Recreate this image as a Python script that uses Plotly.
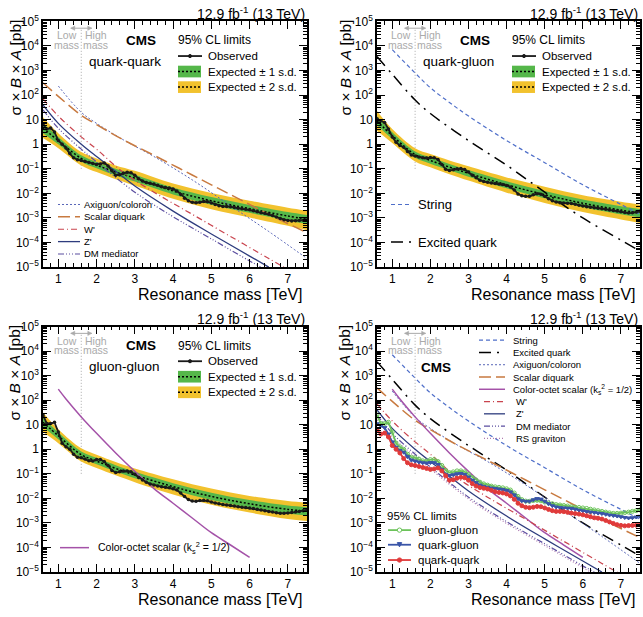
import plotly.graph_objects as go
from plotly.subplots import make_subplots

W, H = 643, 617
FONT = "Liberation Sans, Arial, Helvetica, sans-serif"

# ---------------- data (log10 of sigma x B x A in pb) ----------------
mass_obs = [0.6, 0.7, 0.8, 0.9, 1.0, 1.1, 1.2, 1.3, 1.4, 1.5,
            1.6, 1.7, 1.8, 1.9, 2.0, 2.1, 2.2, 2.3, 2.4, 2.5,
            2.6, 2.7, 2.8, 2.9, 3.0, 3.1, 3.2, 3.3, 3.4, 3.5,
            3.6, 3.7, 3.8, 3.9, 4.0, 4.1, 4.2, 4.3, 4.4, 4.5,
            4.6, 4.7, 4.8, 4.9, 5.0, 5.1, 5.2, 5.3, 5.4, 5.5,
            5.6, 5.7, 5.8, 5.9, 6.0, 6.1, 6.2, 6.3, 6.4, 6.5,
            6.6, 6.7, 6.8, 6.9, 7.0, 7.1, 7.2, 7.3, 7.4, 7.5]

obs_qq_log = [0.80, 0.62, 0.66, 0.50, 0.15, 0.00, -0.15, -0.38, -0.55, -0.63,
              -0.66, -0.70, -0.74, -0.78, -0.82, -0.80, -0.76, -0.88, -1.08, -1.26,
              -1.24, -1.18, -1.14, -1.16, -1.26, -1.40, -1.50, -1.56, -1.59, -1.62,
              -1.67, -1.73, -1.76, -1.78, -1.82, -1.90, -2.04, -2.20, -2.30, -2.36,
              -2.38, -2.36, -2.33, -2.34, -2.39, -2.45, -2.50, -2.53, -2.53, -2.54,
              -2.57, -2.60, -2.62, -2.64, -2.67, -2.71, -2.75, -2.79, -2.81, -2.84,
              -2.90, -2.96, -3.02, -3.07, -3.10, -3.12, -3.11, -3.10, -3.09, -3.08]

obs_qg_log = [1.04, 0.96, 0.88, 0.62, 0.30, 0.08, -0.05, -0.12, -0.30, -0.44,
              -0.48, -0.52, -0.55, -0.56, -0.54, -0.55, -0.62, -0.82, -1.02, -1.07,
              -1.04, -1.00, -0.99, -1.03, -1.13, -1.26, -1.36, -1.46, -1.52, -1.55,
              -1.58, -1.60, -1.62, -1.64, -1.68, -1.74, -1.86, -2.02, -2.10, -2.12,
              -2.12, -2.06, -2.01, -2.03, -2.12, -2.22, -2.30, -2.35, -2.38, -2.39,
              -2.40, -2.41, -2.44, -2.48, -2.51, -2.54, -2.56, -2.58, -2.60, -2.62,
              -2.65, -2.68, -2.70, -2.72, -2.75, -2.78, -2.80, -2.79, -2.76, -2.73]

obs_gg_log = [1.40, 1.05, 1.05, 1.10, 0.70, 0.25, 0.10, 0.00, -0.20, -0.32,
              -0.35, -0.40, -0.47, -0.48, -0.42, -0.42, -0.50, -0.66, -0.86, -0.95,
              -0.92, -0.88, -0.88, -0.92, -1.02, -1.15, -1.25, -1.34, -1.41, -1.46,
              -1.50, -1.53, -1.55, -1.57, -1.61, -1.66, -1.78, -1.92, -2.05, -2.11,
              -2.12, -2.09, -2.08, -2.10, -2.15, -2.19, -2.22, -2.25, -2.27, -2.29,
              -2.31, -2.34, -2.36, -2.37, -2.39, -2.41, -2.44, -2.47, -2.50, -2.53,
              -2.56, -2.59, -2.61, -2.61, -2.60, -2.58, -2.56, -2.53, -2.50, -2.47]

mass_exp = [0.6, 1.0, 1.6, 2.0, 2.5, 3.0, 4.0, 5.0, 6.0, 7.0, 7.5]

exp_qq_log = [0.65, 0.15, -0.58, -0.85, -1.13, -1.38, -1.90, -2.30, -2.62, -2.92, -3.05]
exp_qq_p1 = [0.85, 0.30, -0.45, -0.72, -1.00, -1.24, -1.76, -2.15, -2.47, -2.76, -2.88]
exp_qq_m1 = [0.45, 0.00, -0.71, -0.98, -1.27, -1.52, -2.04, -2.46, -2.79, -3.10, -3.25]
exp_qq_p2 = [1.10, 0.45, -0.32, -0.58, -0.86, -1.08, -1.60, -1.98, -2.30, -2.58, -2.70]
exp_qq_m2 = [0.25, -0.16, -0.86, -1.13, -1.42, -1.68, -2.22, -2.64, -2.98, -3.32, -3.50]

exp_qg_log = [0.95, 0.35, -0.42, -0.66, -0.93, -1.18, -1.65, -2.05, -2.40, -2.68, -2.80]
exp_qg_p1 = [1.13, 0.49, -0.29, -0.53, -0.80, -1.05, -1.51, -1.90, -2.25, -2.52, -2.64]
exp_qg_m1 = [0.77, 0.21, -0.55, -0.79, -1.06, -1.32, -1.79, -2.20, -2.56, -2.85, -2.98]
exp_qg_p2 = [1.35, 0.62, -0.16, -0.40, -0.66, -0.90, -1.35, -1.73, -2.08, -2.34, -2.46]
exp_qg_m2 = [0.55, 0.05, -0.70, -0.94, -1.22, -1.48, -1.97, -2.39, -2.76, -3.06, -3.20]

exp_gg_log = [1.10, 0.55, -0.22, -0.48, -0.78, -1.05, -1.52, -1.92, -2.22, -2.45, -2.52]
exp_gg_p1 = [1.28, 0.69, -0.09, -0.35, -0.65, -0.92, -1.38, -1.77, -2.07, -2.29, -2.36]
exp_gg_m1 = [0.92, 0.41, -0.35, -0.61, -0.91, -1.18, -1.66, -2.07, -2.38, -2.62, -2.70]
exp_gg_p2 = [1.50, 0.82, 0.04, -0.22, -0.52, -0.78, -1.22, -1.60, -1.90, -2.11, -2.18]
exp_gg_m2 = [0.70, 0.25, -0.50, -0.76, -1.06, -1.34, -1.84, -2.26, -2.58, -2.84, -2.92]

string_mass = [1.0, 1.6, 2.0, 2.5, 3.0, 4.0, 5.0, 6.0, 7.0, 7.5]
string_log = [3.85, 2.90, 2.30, 1.70, 1.15, 0.15, -0.75, -1.65, -2.45, -2.85]
qstar_mass = [0.6, 1.0, 1.6, 2.0, 3.0, 4.0, 5.0, 6.0, 7.0, 7.5]
qstar_log = [3.57, 2.85, 1.80, 1.25, 0.15, -0.85, -1.95, -3.00, -3.90, -4.35]
axigluon_mass = [1.0, 1.6, 2.0, 2.7, 3.5, 4.5, 5.5, 6.5, 7.5]
axigluon_log = [2.37, 1.30, 0.85, 0.18, -0.50, -1.45, -2.50, -3.55, -4.65]
diquark_mass = [0.6, 1.0, 1.6, 2.0, 2.7, 3.5, 4.5, 5.5, 6.5, 7.5]
diquark_log = [2.50, 1.95, 1.18, 0.80, 0.18, -0.45, -1.25, -2.05, -2.85, -3.60]
octet_mass = [1.0, 1.2, 1.6, 2.0, 2.5, 3.0, 3.5, 4.0, 4.5, 5.0, 5.5, 6.0]
octet_log = [2.45, 2.05, 1.32, 0.65, -0.15, -0.90, -1.60, -2.20, -2.80, -3.40, -3.90, -4.40]
wprime_mass = [0.6, 1.0, 1.6, 2.0, 2.7, 3.5, 4.5, 5.5, 6.5, 7.0]
wprime_log = [1.85, 1.15, 0.30, -0.20, -1.15, -1.95, -2.85, -3.75, -4.65, -5.10]
zprime_mass = [0.6, 1.0, 1.6, 2.0, 2.5, 3.0, 4.0, 5.0, 6.0, 6.5]
zprime_log = [1.60, 0.85, 0.00, -0.50, -1.10, -1.70, -2.72, -3.65, -4.55, -5.00]
dm_mass = [0.6, 1.0, 1.6, 2.0, 3.0, 4.0, 5.0, 6.0, 6.3]
dm_log = [1.40, 0.65, -0.20, -0.72, -1.95, -2.95, -3.85, -4.75, -5.00]
rsg_mass = [0.6, 1.0, 1.6, 2.0, 3.0, 4.0, 5.0, 6.0, 6.2]
rsg_log = [1.20, 0.50, -0.30, -0.80, -2.02, -3.02, -3.92, -4.82, -5.00]

boundary_mass = 1.6
boundary_y = [0.1, 5.0e4]

x_ticks = [1, 2, 3, 4, 5, 6, 7]
y_ticks = [1e-5, 1e-4, 1e-3, 1e-2, 1e-1, 1, 10, 1e2, 1e3, 1e4, 1e5]
y_ticktext = ["10<sup>\u22125</sup>", "10<sup>\u22124</sup>", "10<sup>\u22123</sup>",
              "10<sup>\u22122</sup>", "10<sup>\u22121</sup>", "1", "10",
              "10<sup>2</sup>", "10<sup>3</sup>", "10<sup>4</sup>", "10<sup>5</sup>"]


def pb(v):
    return [10 ** a for a in v]


# ---------------- styles ----------------
GREEN = "#55b74a"
YELLOW = "#f2c22e"
GRAY = "#aaaaaa"
OBS = "#1a1a1a"
STY = {
    "string": dict(color="#4f6fc9", width=1.2, dash="4px,3px"),
    "qstar": dict(color="black", width=1.5, dash="12px,6px,2px,6px"),
    "axi": dict(color="#5866b8", width=1.0, dash="2px,2px"),
    "diq": dict(color="#c87a40", width=1.5, dash="12px,5px"),
    "oct": dict(color="#a452a8", width=1.5, dash="solid"),
    "wp": dict(color="#c9444e", width=1.2, dash="6px,3px,1px,3px"),
    "zp": dict(color="#2e3c7e", width=1.3, dash="solid"),
    "dm": dict(color="#5b4ea0", width=1.2, dash="6px,2px,1px,2px,1px,2px,1px,2px"),
    "rsg": dict(color="#b07ab0", width=1.2, dash="1px,2px"),
}
MODELS = {
    "string": (string_mass, string_log),
    "qstar": (qstar_mass, qstar_log),
    "axi": (axigluon_mass, axigluon_log),
    "diq": (diquark_mass, diquark_log),
    "oct": (octet_mass, octet_log),
    "wp": (wprime_mass, wprime_log),
    "zp": (zprime_mass, zprime_log),
    "dm": (dm_mass, dm_log),
    "rsg": (rsg_mass, rsg_log),
}

fig = make_subplots(rows=2, cols=2)

panels = [
    dict(key="qq", row=1, col=1, L=43, T=12.7, R=307, B=265, ytx=15),
    dict(key="qg", row=1, col=2, L=377, T=12.7, R=640, B=265, ytx=345),
    dict(key="gg", row=2, col=1, L=43, T=326, R=307, B=578, ytx=15),
    dict(key="all", row=2, col=2, L=377, T=326, R=640, B=578, ytx=345),
]

EXP = {
    "qq": (exp_qq_m2, exp_qq_m1, exp_qq_log, exp_qq_p1, exp_qq_p2, obs_qq_log),
    "qg": (exp_qg_m2, exp_qg_m1, exp_qg_log, exp_qg_p1, exp_qg_p2, obs_qg_log),
    "gg": (exp_gg_m2, exp_gg_m1, exp_gg_log, exp_gg_p1, exp_gg_p2, obs_gg_log),
}
PANEL_MODELS = {"qq": ["axi", "diq", "wp", "zp", "dm"], "qg": ["string", "qstar"], "gg": ["oct"],
                "all": ["string", "qstar", "axi", "diq", "oct", "wp", "zp", "dm", "rsg"]}


def add_model(name, r, c):
    m, v = MODELS[name]
    fig.add_trace(go.Scatter(x=m, y=pb(v), mode="lines", line=dict(shape="spline", **STY[name]),
                             showlegend=False, hoverinfo="skip"), row=r, col=c)


for p in panels:
    r, c = p["row"], p["col"]
    fig.add_trace(go.Scatter(x=[boundary_mass, boundary_mass], y=boundary_y, mode="lines",
                             line=dict(color=GRAY, width=1, dash="1px,2px"), showlegend=False,
                             hoverinfo="skip"), row=r, col=c)
    if p["key"] in EXP:
        m2, m1, e, p1, p2, obs = EXP[p["key"]]
        for lo, hi, col in ((m2, p2, YELLOW), (m1, p1, GREEN)):
            fig.add_trace(go.Scatter(x=mass_exp, y=pb(lo), mode="lines", line=dict(width=0, shape="spline"),
                                     showlegend=False, hoverinfo="skip"), row=r, col=c)
            fig.add_trace(go.Scatter(x=mass_exp, y=pb(hi), mode="lines", line=dict(width=0, shape="spline"),
                                     fill="tonexty", fillcolor=col, showlegend=False, hoverinfo="skip"),
                          row=r, col=c)
        fig.add_trace(go.Scatter(x=mass_exp, y=pb(e), mode="lines",
                                 line=dict(color="black", width=1.5, dash="2px,2px", shape="spline"),
                                 showlegend=False, hoverinfo="skip"), row=r, col=c)
        for name in PANEL_MODELS[p["key"]]:
            add_model(name, r, c)
        fig.add_trace(go.Scatter(x=mass_obs, y=pb(obs), mode="lines+markers",
                                 line=dict(color=OBS, width=1.8), marker=dict(color=OBS, size=3.5),
                                 showlegend=False, hoverinfo="skip"), row=r, col=c)
    else:
        for name in PANEL_MODELS["all"]:
            add_model(name, r, c)
        for obs, col, sym in ((obs_gg_log, "#6cc35a", "circle-open"),
                              (obs_qg_log, "#3a55a8", "triangle-down"),
                              (obs_qq_log, "#e03a3a", "circle")):
            fig.add_trace(go.Scatter(x=mass_obs, y=pb(obs), mode="lines+markers",
                                     line=dict(color=col, width=1.8),
                                     marker=dict(color=col, size=4, symbol=sym, line=dict(color=col, width=1)),
                                     showlegend=False, hoverinfo="skip"), row=r, col=c)

# ---------------- axes ----------------
minor_y = [k * 10.0 ** e for e in range(-5, 5) for k in range(2, 10)]
tickfont = dict(family=FONT, size=12, color="black")
for i, p in enumerate(panels):
    sfx = "" if i == 0 else str(i + 1)
    fig.layout["xaxis" + sfx].update(
        domain=[p["L"] / W, p["R"] / W], range=[0.6, 7.5], showline=True, linecolor="black",
        linewidth=1.5, mirror="ticks", ticks="inside", ticklen=8, tickwidth=1, tickcolor="black",
        tickmode="array", tickvals=x_ticks, showgrid=False, zeroline=False, tickfont=tickfont,
        minor=dict(ticks="inside", ticklen=4, tickwidth=1, tickcolor="black", dtick=0.2, tick0=0,
                   showgrid=False))
    fig.layout["yaxis" + sfx].update(
        domain=[1 - p["B"] / H, 1 - p["T"] / H], type="log", range=[-5, 5], showline=True,
        linecolor="black", linewidth=1.5, mirror="ticks", ticks="inside", ticklen=8, tickwidth=1,
        tickcolor="black", tickmode="array", tickvals=y_ticks, ticktext=y_ticktext, showgrid=False,
        zeroline=False, tickfont=tickfont,
        minor=dict(ticks="inside", ticklen=4, tickwidth=1, tickcolor="black", tickmode="array",
                   tickvals=minor_y, showgrid=False))

# ---------------- texts and legend samples ----------------
ann, shp = [], []


def X(px):
    return px / W


def Y(py):
    return 1 - py / H


def txt(x, y, s, size, color="black", xa="left", ya="middle", angle=0):
    ann.append(dict(xref="paper", yref="paper", x=X(x), y=Y(y), text=s, showarrow=False,
                    xanchor=xa, yanchor=ya, textangle=angle, borderpad=0,
                    font=dict(family=FONT, size=size, color=color)))


def hline(x0, x1, y, color, width, dash="solid"):
    shp.append(dict(type="line", xref="paper", yref="paper", x0=X(x0), x1=X(x1), y0=Y(y), y1=Y(y),
                    line=dict(color=color, width=width, dash=dash)))


def rect(x0, x1, y0, y1, fill):
    shp.append(dict(type="rect", xref="paper", yref="paper", x0=X(x0), x1=X(x1), y0=Y(y1), y1=Y(y0),
                    fillcolor=fill, line=dict(width=0)))


def dot(x, y, r, color, fill=None):
    shp.append(dict(type="circle", xref="paper", yref="paper", x0=X(x - r), x1=X(x + r),
                    y0=Y(y + r), y1=Y(y - r), fillcolor=fill if fill else color,
                    line=dict(color=color, width=1)))


def tri(x, y, r, color):
    path = "M {} {} L {} {} L {} {} Z".format(X(x - r), Y(y - r), X(x + r), Y(y - r), X(x), Y(y + r))
    shp.append(dict(type="path", xref="paper", yref="paper", path=path, fillcolor=color,
                    line=dict(color=color, width=1)))


def arrow_line(x0, x1, y, color):
    # grey double-headed arrow drawn as a line with two small heads
    hline(x0, x1, y, color, 1)
    for xe, s in ((x0, 1), (x1, -1)):
        path = "M {} {} L {} {} L {} {} Z".format(X(xe), Y(y), X(xe + s * 4), Y(y - 2.2),
                                                  X(xe + s * 4), Y(y + 2.2))
        shp.append(dict(type="path", xref="paper", yref="paper", path=path, fillcolor=color,
                        line=dict(color=color, width=0.5)))


YTITLE = "\u03c3 \u00d7 <i>B</i> \u00d7 <i>A</i> [pb]"
LABELS = {"qq": "quark-quark", "qg": "quark-gluon", "gg": "gluon-gluon"}

for p in panels:
    L, T, R, B = p["L"], p["T"], p["R"], p["B"]
    txt(R - 1, T - 8.5, "12.9 fb<sup>-1</sup> (13 TeV)", 14, ya="middle", xa="right")
    txt(p["ytx"], T - 3, YTITLE, 15.5, xa="center", ya="top", angle=-90)
    txt(R - 3.5, B + 28.5, "Resonance mass [TeV]", 16, xa="right")
    cx = L + (boundary_mass - 0.6) * (R - L) / 6.9
    txt(cx - 14.5, T + 14.5, "Low", 10.5, color=GRAY, xa="center")
    txt(cx - 14.5, T + 24, "mass", 10.5, color=GRAY, xa="center")
    txt(cx + 14.5, T + 14.5, "High", 10.5, color=GRAY, xa="center")
    txt(cx + 14.5, T + 24, "mass", 10.5, color=GRAY, xa="center")
    arrow_line(cx - 10.5, cx + 10.5, T + 7, GRAY)
    if p["key"] in LABELS:
        txt(L + 98, T + 19.5, "<b>CMS</b>", 13.5, xa="center")
        txt(L + 45, T + 41, LABELS[p["key"]], 13.5)
        txt(L + 134, T + 19.5, "95% CL limits", 12)
        hline(L + 135, L + 159, T + 35.6, OBS, 1.8)
        dot(L + 147, T + 35.6, 1.6, OBS)
        txt(L + 164, T + 35.6, "Observed", 11.5)
        rect(L + 135, L + 158, T + 45.5, T + 57.5, GREEN)
        hline(L + 135, L + 158, T + 51.5, "black", 1.5, "2px,2px")
        txt(L + 164, T + 51.5, "Expected \u00b1 1 s.d.", 11.5)
        rect(L + 135, L + 158, T + 61.5, T + 73.5, YELLOW)
        hline(L + 135, L + 158, T + 67.5, "black", 1.5, "2px,2px")
        txt(L + 164, T + 67.5, "Expected \u00b1 2 s.d.", 11.5)
    if p["key"] == "qq":
        rows = [("axi", "Axiguon/coloron"), ("diq", "Scalar diquark"), ("wp", "W'"), ("zp", "Z'"),
                ("dm", "DM mediator")]
        for k, (name, lab) in enumerate(rows):
            yy = B - 64.3 + 12.7 * k
            hline(L + 15, L + 37, yy, STY[name]["color"], STY[name]["width"], STY[name]["dash"])
            txt(L + 40, yy, lab, 9.5)
    elif p["key"] == "qg":
        for name, lab, yy in (("string", "String", B - 64.3), ("qstar", "Excited quark", B - 25.7)):
            hline(L + 14, L + 34, yy, STY[name]["color"], STY[name]["width"], STY[name]["dash"])
            txt(L + 40, yy, lab, 13)
    elif p["key"] == "gg":
        yy = B - 25
        hline(L + 17, L + 46, yy, STY["oct"]["color"], 1.5)
        txt(L + 54, yy, "Color-octet scalar (k<sub>s</sub><sup>2</sup> = 1/2)", 10.5)
    else:
        txt(L + 59, T + 42, "<b>CMS</b>", 13.5, xa="center")
        rows = [("string", "String"), ("qstar", "Excited quark"), ("axi", "Axiguon/coloron"),
                ("diq", "Scalar diquark"), ("oct", "Color-octet scalar (k<sub>s</sub><sup>2</sup> = 1/2)"),
                ("wp", "W'"), ("zp", "Z'"), ("dm", "DM mediator"), ("rsg", "RS graviton")]
        for k, (name, lab) in enumerate(rows):
            yy = T + 14 + 12.6 * k
            indent = 2.5 if k >= 5 else 0
            hline(L + 102 + indent * 2, L + 128, yy, STY[name]["color"], STY[name]["width"], STY[name]["dash"])
            txt(L + 135 + indent, yy, lab, 9.5)
        txt(L + 9, B - 57.3, "95% CL limits", 11.5)
        leg = [("gluon-gluon", "#6cc35a", "o", B - 43), ("quark-gluon", "#3a55a8", "v", B - 28),
               ("quark-quark", "#e03a3a", "c", B - 12.3)]
        for lab, col, sym, yy in leg:
            hline(L + 11, L + 34, yy, col, 1.8)
            if sym == "o":
                dot(L + 22.5, yy, 2.2, col, "white")
            elif sym == "v":
                tri(L + 22.5, yy, 2.2, col)
            else:
                dot(L + 22.5, yy, 2.2, col)
            txt(L + 40, yy, lab, 11.5)

fig.update_layout(width=W, height=H, margin=dict(l=0, r=0, t=0, b=0), paper_bgcolor="white",
                  plot_bgcolor="white", showlegend=False, annotations=ann, shapes=shp,
                  font=dict(family=FONT, color="black"))

fig.write_html("out.html")
